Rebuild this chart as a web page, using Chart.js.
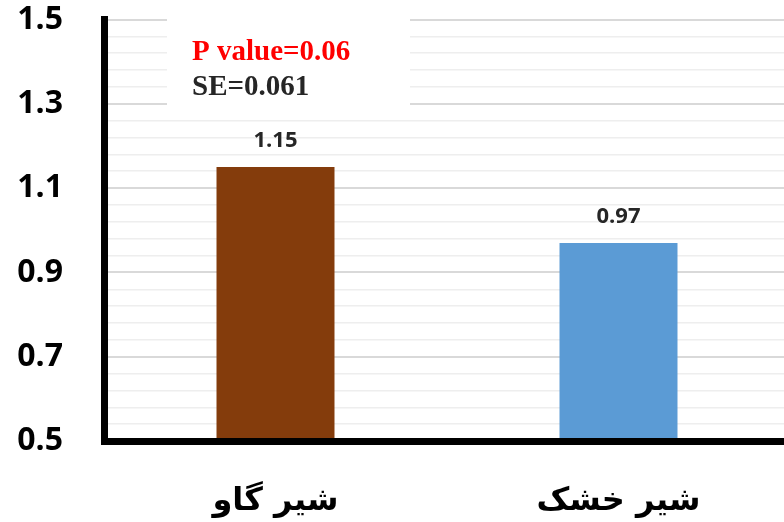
<!DOCTYPE html>
<html><head><meta charset="utf-8">
<script src="https://cdn.jsdelivr.net/npm/chart.js@4/dist/chart.umd.min.js"></script>
<style>html,body{margin:0;padding:0;overflow:hidden;background:#fff}#wrap{width:790px;height:522px;position:relative}</style>
</head><body><div id="wrap"><canvas id="c" width="790" height="522"></canvas></div>
<script>
const categories = ['شیر گاو', 'شیر خشک'];
const values = [1.15, 0.97];
const barColors = ['#843C0C', '#5B9BD5'];
const yTickLabels = [0.5, 0.7, 0.9, 1.1, 1.3, 1.5];
const annotationLines = ['P value=0.06', 'SE=0.061'];
const annotationColors = ['#ff0000', '#262626'];

function isMajor(v) { return yTickLabels.some(t => Math.abs(t - v) < 1e-6); }

const dataLabels = {
  id: 'dataLabels',
  afterDatasetsDraw(chart) {
    const ctx = chart.ctx;
    const meta = chart.getDatasetMeta(0);
    ctx.save();
    ctx.font = 'bold 22px "Open Sans"';
    ctx.fillStyle = '#262626';
    ctx.textAlign = 'center';
    ctx.textBaseline = 'middle';
    meta.data.forEach((el, i) => {
      ctx.fillText(values[i].toFixed(2), el.x, el.y - 26);
    });
    ctx.restore();
  }
};

const annotationBox = {
  id: 'annotationBox',
  beforeDatasetsDraw(chart) {
    const ctx = chart.ctx;
    const a = chart.chartArea;
    ctx.save();
    ctx.fillStyle = '#ffffff';
    ctx.fillRect(a.left + 63, 10, 243, 102);
    ctx.font = 'bold 29px "Liberation Serif"';
    ctx.textAlign = 'left';
    ctx.textBaseline = 'alphabetic';
    annotationLines.forEach((t, i) => {
      ctx.fillStyle = annotationColors[i];
      ctx.fillText(t, a.left + 88, 60 + i * 35);
    });
    ctx.restore();
  }
};

new Chart(document.getElementById('c'), {
  type: 'bar',
  data: {
    labels: categories,
    datasets: [{
      data: values,
      backgroundColor: barColors,
      borderWidth: 0,
      barPercentage: 0.344,
      categoryPercentage: 1
    }]
  },
  options: {
    responsive: false,
    devicePixelRatio: 1,
    animation: false,
    layout: { padding: { top: 19.5, right: 0, bottom: 0, left: 0 } },
    plugins: { legend: { display: false }, tooltip: { enabled: false } },
    scales: {
      x: {
        z: 1,
        grid: { display: false, drawTicks: false },
        border: { display: true, color: '#000', width: 7, z: 1 },
        ticks: { color: '#000', font: { family: 'DejaVu Sans', size: 32, weight: 'bold' }, padding: 41, maxRotation: 0 },
        afterFit(s) { s.height = 81; s.paddingLeft = 0; s.paddingRight = 0; }
      },
      y: {
        min: 0.5, max: 1.5,
        grid: {
          drawTicks: false,
          color: c => isMajor(c.tick.value) ? '#d9d9d9' : '#eeeeee',
          lineWidth: c => isMajor(c.tick.value) ? 2 : 1.5
        },
        border: { display: true, color: '#000', width: 7 },
        ticks: {
          stepSize: 0.04,
          autoSkip: false,
          padding: 41,
          color: '#000',
          font: { family: 'Open Sans', size: 32, weight: 'bold' },
          callback: v => isMajor(v) ? (Math.round(v * 10) / 10).toFixed(1) : ''
        },
        afterFit(s) { s.width = 104; s.paddingTop = 0; s.paddingBottom = 0; }
      }
    }
  },
  plugins: [annotationBox, dataLabels]
});
</script>
</body></html>
